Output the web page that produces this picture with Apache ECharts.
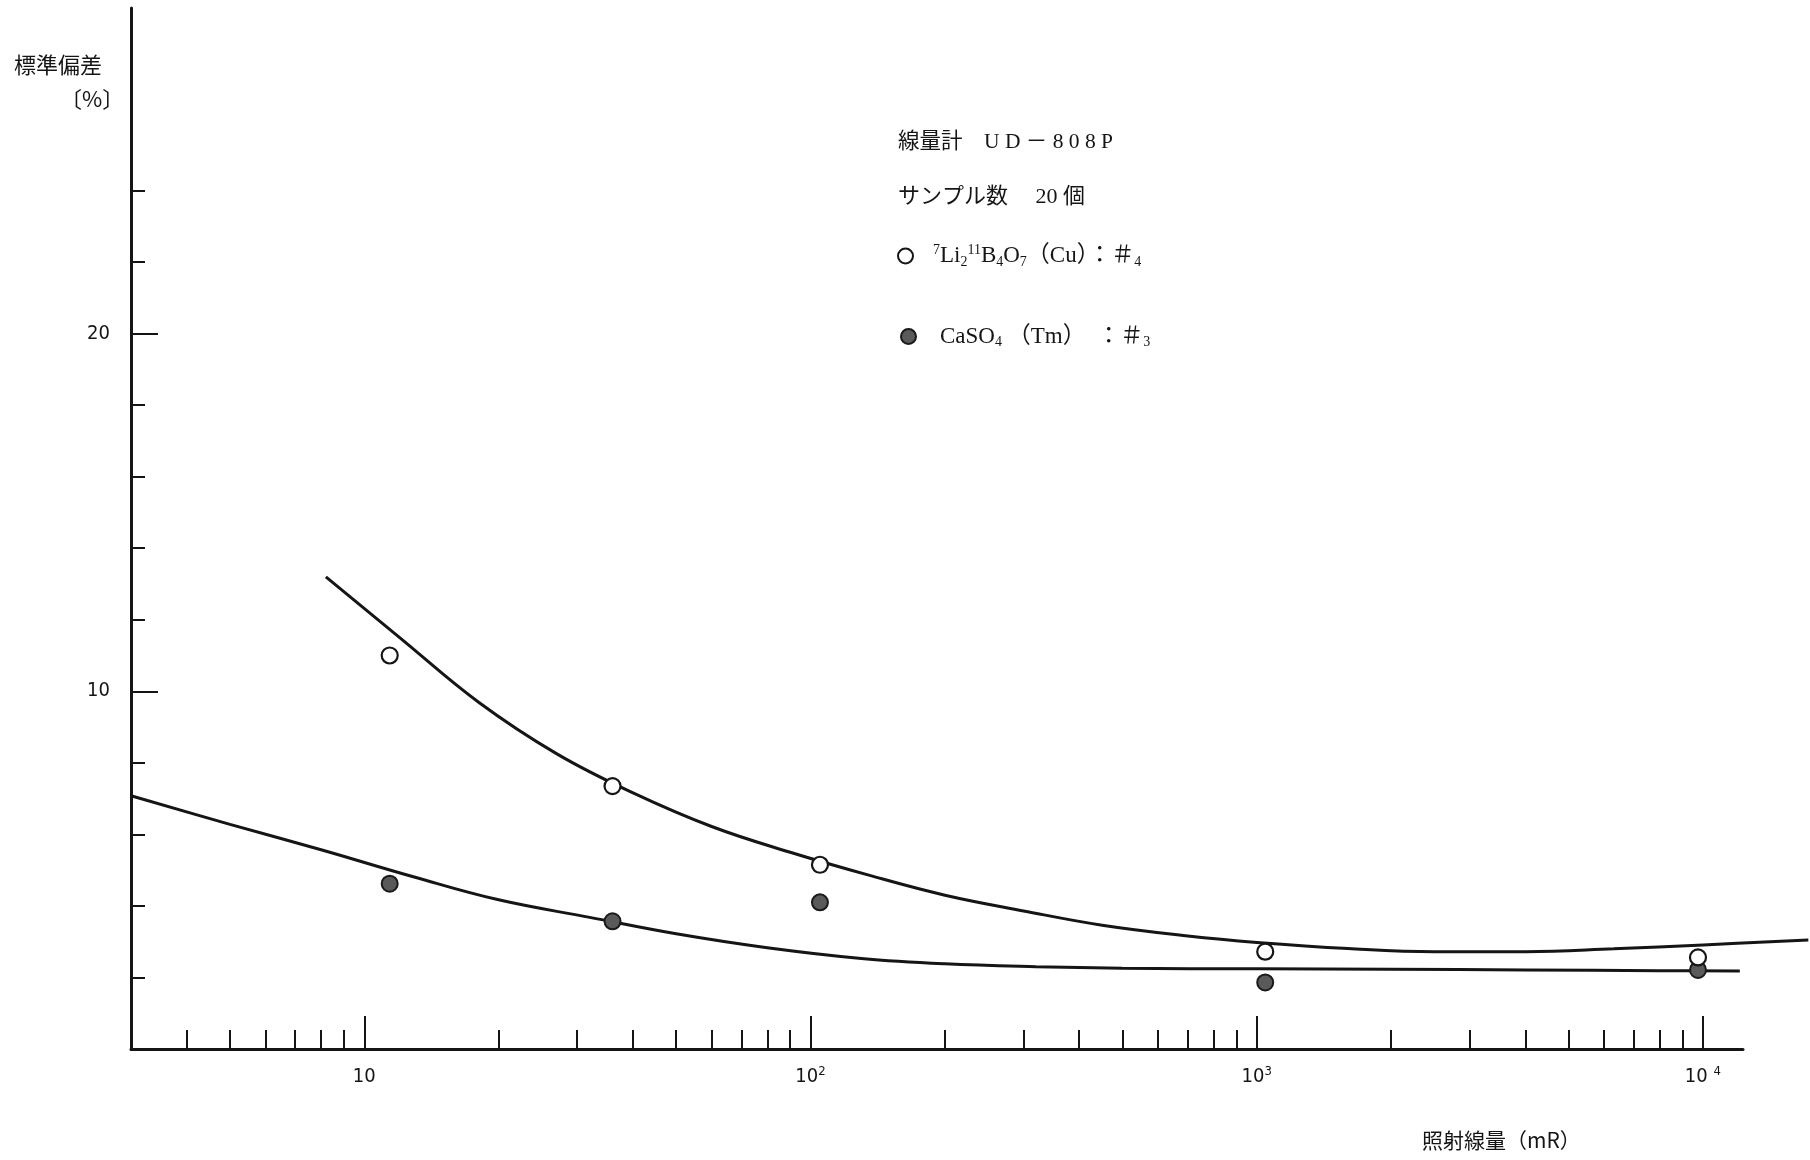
<!DOCTYPE html>
<html><head><meta charset="utf-8">
<script src="https://cdn.jsdelivr.net/npm/echarts@6/dist/echarts.min.js"></script>
<style>html,body{margin:0;padding:0;background:#fff}#c{width:1810px;height:1160px}</style>
</head><body><div id="c"></div>
<script>
// ---- data ----
const pointDose = [11.4, 36, 105, 1045, 9750];
const liSD = [11.0, 7.35, 5.15, 2.72, 2.56];
const caSD = [4.62, 3.57, 4.10, 1.86, 2.21];
const liCurveDose = [8.2, 12, 18, 27, 40, 60, 90, 135, 200, 300, 450, 700, 1000, 1600, 2500, 4000, 6300, 10000, 17200];
const liCurveSD   = [13.2, 11.5, 9.7, 8.25, 7.16, 6.22, 5.5, 4.86, 4.3, 3.86, 3.46, 3.16, 2.98, 2.81, 2.72, 2.72, 2.8, 2.91, 3.05];
const caCurveDose = [3, 5, 8, 13, 20, 32, 50, 80, 130, 200, 320, 500, 1000, 2000, 4000, 8000, 12100];
const caCurveSD   = [7.08, 6.28, 5.57, 4.8, 4.17, 3.68, 3.22, 2.83, 2.53, 2.38, 2.3, 2.26, 2.24, 2.23, 2.21, 2.19, 2.18];
const xMajorTicks = [10, 100, 1000, 10000];
const xTickBase = ['10', '10', '10', '10 '];
const xTickExp = ['', '2', '3', '4'];
const xMinorTicks = [4,5,6,7,8,9,20,30,40,50,60,70,80,90,200,300,400,500,600,700,800,900,2000,3000,4000,5000,6000,7000,8000,9000];
const yMajorTicks = [10, 20];
const yMinorTicks = [2,4,6,8,12,14,16,18,22,24];
const legendLi = '{g|}{sup|7}{t|Li}{sub|2}{sup|11}{t|B}{sub|4}{t|O}{sub|7}{t|（Cu）：＃}{sub|4}';
const legendCa = '{g|}{t|CaSO}{sub|4}{t| （Tm）　：＃}{sub|3}';

const zip = (a, b) => a.map((v, i) => [v, b[i]]);
const INK = '#151515';
const CJK = "'Noto Sans CJK JP', sans-serif";
const SERIF = "'Liberation Serif', 'Noto Sans CJK JP', serif";
const NUM = "'Liberation Sans Narrow', 'DejaVu Sans Condensed', 'Liberation Sans', sans-serif";

const legendRich = (gap) => ({
  g: { width: gap },
  t: { fontSize: 23, fontFamily: SERIF, color: INK, lineHeight: 26 },
  sub: { fontSize: 14, fontFamily: SERIF, color: INK, lineHeight: 16, verticalAlign: 'bottom' },
  sup: { fontSize: 14, fontFamily: SERIF, color: INK, lineHeight: 16, verticalAlign: 'top' }
});

const chart = echarts.init(document.getElementById('c'));
const xBase = { type: 'log', logBase: 10, min: 3, max: 12300, position: 'bottom', splitLine: { show: false }, gridIndex: 0 };
const yBase = { type: 'value', min: 0, max: 29.1, position: 'left', splitLine: { show: false }, gridIndex: 0 };

chart.setOption({
  backgroundColor: '#fff',
  animation: false,
  grid: [
    { left: 131, right: 67, top: 8, bottom: 111, containLabel: false },
    // same scale, extended to the right edge so the upper curve can run past the axis end
    { left: 131, right: 0, top: 8, bottom: 111, containLabel: false }
  ],
  xAxis: [
    Object.assign({}, xBase, {
      axisLine: { show: true, lineStyle: { color: INK, width: 3 } },
      axisTick: { show: true, inside: true, length: 33, customValues: xMajorTicks, lineStyle: { color: INK, width: 2 } },
      axisLabel: {
        show: true, margin: 16, customValues: xMajorTicks,
        formatter: (v) => {
          const i = xMajorTicks.indexOf(Math.round(v));
          if (i < 0) return '';
          return '{b|' + xTickBase[i] + '}' + (xTickExp[i] ? '{s|' + xTickExp[i] + '}' : '');
        },
        rich: {
          b: { fontSize: 20, fontFamily: NUM, color: INK, lineHeight: 24 },
          s: { fontSize: 13, fontFamily: NUM, color: INK, lineHeight: 12, verticalAlign: 'top' }
        }
      }
    }),
    Object.assign({}, xBase, {
      axisLine: { show: false },
      axisTick: { show: true, inside: true, length: 19, customValues: xMinorTicks, lineStyle: { color: INK, width: 2 } },
      axisLabel: { show: false }
    }),
    Object.assign({}, xBase, {
      gridIndex: 1, max: 17350,
      axisLine: { show: false }, axisTick: { show: false }, axisLabel: { show: false }
    })
  ],
  yAxis: [
    Object.assign({}, yBase, {
      axisLine: { show: true, lineStyle: { color: INK, width: 3 } },
      axisTick: { show: true, inside: true, length: 27, customValues: yMajorTicks, lineStyle: { color: INK, width: 2 } },
      axisLabel: { show: true, margin: 21, customValues: yMajorTicks, fontSize: 20, fontFamily: NUM, color: INK }
    }),
    Object.assign({}, yBase, {
      axisLine: { show: false },
      axisTick: { show: true, inside: true, length: 14, customValues: yMinorTicks, lineStyle: { color: INK, width: 2 } },
      axisLabel: { show: false }
    }),
    Object.assign({}, yBase, {
      gridIndex: 1,
      axisLine: { show: false }, axisTick: { show: false }, axisLabel: { show: false }
    })
  ],
  legend: [
    {
      data: ['Li2B4O7'], orient: 'vertical', left: 892, top: 238,
      itemWidth: 15, itemHeight: 15, formatter: () => legendLi,
      textStyle: { rich: legendRich(15) }
    },
    {
      data: ['CaSO4'], orient: 'vertical', left: 895, top: 320,
      itemWidth: 15, itemHeight: 15, formatter: () => legendCa,
      textStyle: { rich: legendRich(19) }
    }
  ],
  graphic: [
    { type: 'text', left: 14, top: 54, style: { text: '標準偏差', fontSize: 22, fontFamily: CJK, fill: INK } },
    { type: 'text', left: 60, top: 88, style: { text: '〔%〕', fontSize: 22, fontFamily: CJK, fill: INK } },
    { type: 'text', left: 898, top: 132, style: { text: '線量計　U D － 8 0 8 P', fontSize: 21.5, fontFamily: SERIF, fill: INK } },
    { type: 'text', left: 898, top: 186, style: { text: 'サンプル数　 20 個', fontSize: 22, fontFamily: SERIF, fill: INK } },
    { type: 'text', left: 1422, top: 1130, style: { text: '照射線量（mR）', fontSize: 21, fontFamily: CJK, fill: INK } }
  ],
  series: [
    {
      name: 'LiCurve', type: 'line', xAxisIndex: 2, yAxisIndex: 2,
      data: zip(liCurveDose, liCurveSD), smooth: 0.4,
      showSymbol: false, lineStyle: { color: INK, width: 3 }, z: 2, silent: true
    },
    {
      name: 'CaCurve', type: 'line', data: zip(caCurveDose, caCurveSD), smooth: 0.4,
      showSymbol: false, lineStyle: { color: INK, width: 3 }, z: 2, silent: true
    },
    {
      name: 'Li2B4O7', type: 'scatter', data: zip(pointDose, liSD), symbol: 'circle', symbolSize: 16,
      itemStyle: { color: '#fff', borderColor: INK, borderWidth: 2.2, opacity: 1 }, z: 4
    },
    {
      name: 'CaSO4', type: 'scatter', data: zip(pointDose, caSD), symbol: 'circle', symbolSize: 16,
      itemStyle: { color: '#5a5a5a', borderColor: '#1a1a1a', borderWidth: 2, opacity: 1 }, z: 3
    }
  ]
});
</script></body></html>
